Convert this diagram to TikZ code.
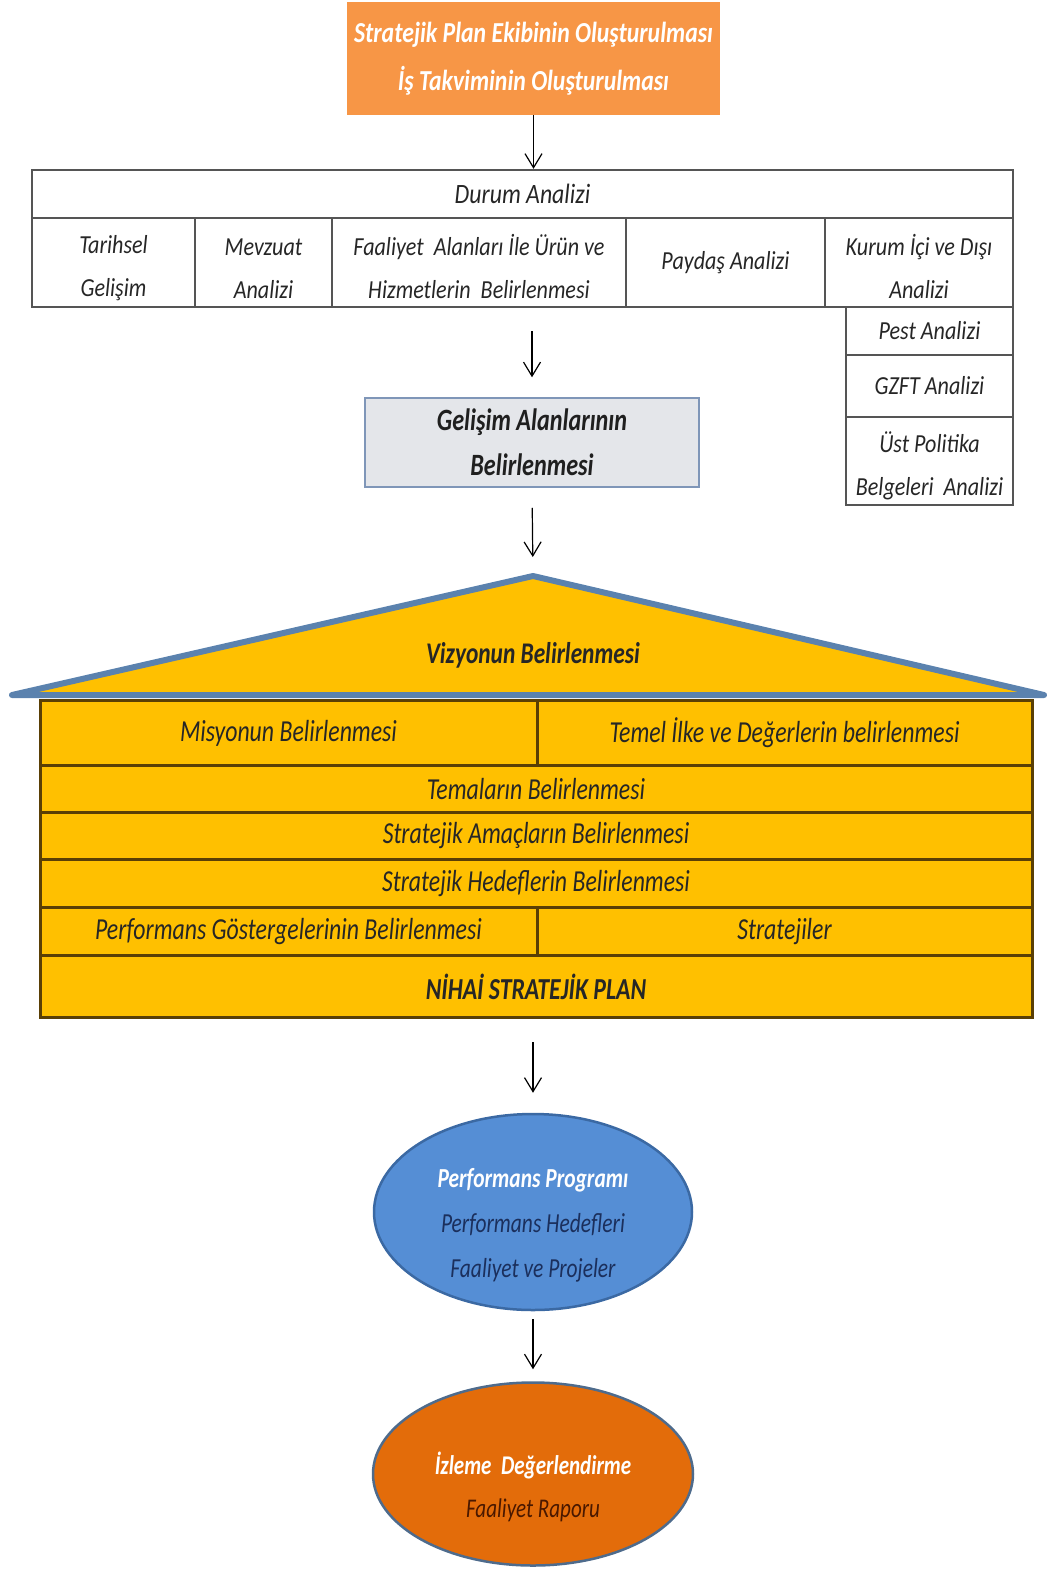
\documentclass[tikz,border=0pt]{standalone}
\usepackage{fontspec}
\usetikzlibrary{arrows.meta,shapes.geometric}
\newfontfamily\fA[FakeStretch=0.85]{Carlito}
\newfontfamily\fB[FakeStretch=0.78]{Carlito}
\newfontfamily\fC[FakeStretch=0.82]{Carlito}
\definecolor{topor}{HTML}{F79646}
\definecolor{gold}{HTML}{FFC000}
\definecolor{roofline}{HTML}{5B82AE}
\definecolor{brownline}{HTML}{5A3F05}
\definecolor{tabline}{HTML}{555555}
\definecolor{gelfill}{HTML}{E4E6EA}
\definecolor{gelline}{HTML}{7F96B8}
\definecolor{bluefill}{HTML}{558ED5}
\definecolor{blueline}{HTML}{3B69A3}
\definecolor{navy}{HTML}{1B2F5C}
\definecolor{orfill}{HTML}{E36C0A}
\definecolor{orline}{HTML}{4E6B8C}
\definecolor{darkbrown}{HTML}{4A1800}
\begin{document}
\begin{tikzpicture}[x=1pt,y=-1pt,
  arr/.style={draw=black,line width=1.2pt,-{Straight Barb[length=14pt,width=17pt,line width=1.2pt]}},
  cell/.style={draw=tabline,line width=2.4pt,inner sep=0pt,align=center,
    font=\fA\itshape\fontsize{26}{43}\selectfont,text=black!85},
  hrow/.style={draw=brownline,fill=gold,line width=3pt,inner sep=0pt,align=center,
    font=\fB\itshape\fontsize{30.5}{34}\selectfont,text=black!85},
  ell/.style={ellipse,line width=2.5pt,inner sep=0pt},
  etext/.style={align=center,inner sep=0pt}]
\useasboundingbox (0,0) rectangle (1050,1572);
% top box
\node[fill=topor,minimum width=373pt,minimum height=113pt,inner sep=0pt,align=center,
  text=white,font=\fC\bfseries\itshape\fontsize{29}{48}\selectfont] (top) at (533.5,58.5)
  {Stratejik Plan Ekibinin Oluşturulması\\İş Takviminin Oluşturulması};
% durum analizi table
\node[cell,minimum width=981pt,minimum height=48pt,font=\fA\itshape\fontsize{28}{34}\selectfont] (durum) at (522.5,194) {Durum Analizi};
\node[cell,minimum width=163pt,minimum height=89pt] (c1) at (113.5,262.5) {\strut Tarihsel\\Gelişim};
\node[cell,minimum width=137pt,minimum height=89pt] (c2) at (263.5,262.5) {\strut Mevzuat\\Analizi};
\node[cell,minimum width=294pt,minimum height=89pt] (c3) at (479,262.5) {\strut Faaliyet\ \ Alanları\ İle Ürün ve\\Hizmetlerin\ \ Belirlenmesi};
\node[cell,minimum width=199pt,minimum height=89pt] (c4) at (725.5,262.5) {Paydaş Analizi};
\node[cell,minimum width=188pt,minimum height=89pt] (c5) at (919,262.5) {\strut Kurum İçi ve Dışı\\Analizi};
\node[cell,minimum width=167pt,minimum height=48pt] (pest) at (929.5,331) {Pest Analizi};
\node[cell,minimum width=167pt,minimum height=62pt] (gzft) at (929.5,386) {GZFT Analizi};
\node[cell,minimum width=167pt,minimum height=88pt] (ust) at (929.5,461) {\strut Üst Politika\\Belgeleri\ \ Analizi};
% gelisim
\node[draw=gelline,fill=gelfill,line width=1.5pt,minimum width=334pt,minimum height=89pt,inner sep=0pt,
  align=center,text=black!88,font=\fB\bfseries\itshape\fontsize{31}{45}\selectfont] (gel) at (532,442.5)
  {Gelişim Alanlarının\\Belirlenmesi};
% house roof
\coordinate (apex) at (533,576);
\coordinate (eaveL) at (12,695);
\coordinate (eaveR) at (1044,695);
\filldraw[fill=gold,draw=roofline,line width=6pt,line join=round] (eaveL) -- (apex) -- (eaveR) -- cycle;
\node[font=\fB\bfseries\itshape\fontsize{30}{34}\selectfont,text=black!85] (viz) at (533,655) {Vizyonun Belirlenmesi};
% house rows
\node[hrow,minimum width=497pt,minimum height=65pt] (mis) at (288.5,733) {Misyonun Belirlenmesi};
\node[hrow,minimum width=495pt,minimum height=65pt] (tem) at (784.5,733) {Temel İlke ve Değerlerin belirlenmesi};
\node[hrow,minimum width=992pt,minimum height=47pt] (tema) at (536,789) {Temaların Belirlenmesi};
\node[hrow,minimum width=992pt,minimum height=47pt] (amac) at (536,836) {Stratejik Amaçların Belirlenmesi};
\node[hrow,minimum width=992pt,minimum height=48pt] (hedef) at (536,883.5) {Stratejik Hedeflerin Belirlenmesi};
\node[hrow,minimum width=497pt,minimum height=48pt] (perf) at (288.5,931.5) {Performans Göstergelerinin Belirlenmesi};
\node[hrow,minimum width=495pt,minimum height=48pt] (strat) at (784.5,931.5) {Stratejiler};
\node[hrow,minimum width=992pt,minimum height=62pt,font=\fB\bfseries\itshape\fontsize{30.5}{34}\selectfont] (nihai) at (536,986.5) {NİHAİ STRATEJİK PLAN};
% ellipses
\node[ell,fill=bluefill,draw=blueline,minimum width=318pt,minimum height=196pt] (e1) at (533,1212) {};
\node[etext,font=\fB\itshape\fontsize{27.5}{45}\selectfont,text=navy] (e1t) at ([yshift=-13pt]e1.center)
  {{\color{white}\bfseries Performans Programı}\\Performans Hedefleri\\Faaliyet ve Projeler};
\node[ell,fill=orfill,draw=orline,minimum width=320pt,minimum height=183pt] (e2) at (533,1474) {};
\node[etext,font=\fB\itshape\fontsize{27}{43}\selectfont,text=darkbrown] (e2t) at ([yshift=-13pt]e2.center)
  {{\color{white}\bfseries İzleme\ \ Değerlendirme}\\Faaliyet Raporu};
% arrows
\draw[arr] (top.south) -- (top.south |- durum.north);
\draw[arr,shorten <=23pt,shorten >=20pt] (gel.north |- c3.south) -- (gel.north);
\draw[arr,shorten <=20pt,shorten >=19pt] (gel.south) -- (apex);
\draw[arr,shorten <=23pt,shorten >=20pt] (e1.north |- nihai.south) -- (e1.north);
\draw[arr,shorten <=8pt,shorten >=12pt] (e1.south) -- (e2.north);
\end{tikzpicture}
\end{document}
